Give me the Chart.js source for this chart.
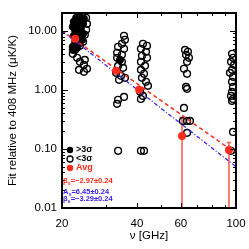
<!DOCTYPE html>
<html>
<head>
<meta charset="utf-8">
<script src="https://cdn.jsdelivr.net/npm/chart.js@4.4.0/dist/chart.umd.min.js"></script>
<style>
  html, body { margin: 0; padding: 0; background: #fff; }
  #wrap { width: 249px; height: 249px; }
</style>
</head>
<body>
<div id="wrap"><canvas id="fitChart" width="249" height="249"></canvas></div>
<script>
// tick labels
const xTicks = [20, 40, 60, 100];
const xMinor = [30, 50, 70, 80, 90];
const yTicks = [0.01, 0.1, 1, 10];

// >3 sigma detections (GHz, fit value)
const detFreq = [22.8, 23.6, 24.5, 22.3, 23.4, 24.3, 22.1, 23.0, 23.8, 22.6, 23.4, 24.3, 22.3, 23.2, 24.1, 22.6, 23.4, 22.1, 23.0, 22.1, 34.2];
const detVal  = [16.6, 17.3, 16.0, 14.2, 14.2, 13.1, 11.7, 11.7, 10.8, 10.0, 9.25, 8.9, 8.23, 7.61, 7.04, 6.51, 6.02, 5.36, 5.15, 4.76, 3.22];

// <3 sigma
const ndFreq = [
  25.0, 25.2, 25.0, 24.7, 24.3, 23.6, 22.6, 22.1, 23.0, 23.6, 24.7, 24.5, 25.2, 24.5, 23.4,
  35.5, 35.8, 34.8, 33.6, 35.5, 33.3, 34.8, 33.3, 34.8, 33.6, 35.2, 33.0, 34.5, 33.9, 35.8, 33.6, 35.5, 33.3, 33.6,
  42.3, 43.9, 41.5, 43.5, 41.9, 43.9, 41.5, 43.1, 41.5, 42.7, 41.9, 43.5, 44.3, 41.2, 42.3, 41.5, 41.5, 42.7,
  62.4, 64.1, 63.0, 64.7, 63.6, 61.8, 63.6, 63.0, 63.6, 61.8, 61.2, 63.6, 65.3, 63.6,
  96.4, 97.3, 95.5, 98.2, 96.4, 94.6, 97.3, 96.4, 97.3, 96.4, 95.5, 97.3, 96.4, 97.3, 95.5
];
const ndVal = [
  16.6, 13.1, 10.4, 8.55, 6.51, 5.57, 4.76, 4.08, 3.49, 2.98, 3.22, 2.65, 2.27, 2.02, 2.18,
  8.23, 7.04, 6.02, 5.36, 4.95, 4.24, 3.92, 3.49, 2.98, 2.55, 2.36, 1.94, 1.73, 1.48, 1.60, 0.68, 0.76, 0.579, 0.093,
  6.02, 5.57, 4.95, 4.41, 3.77, 3.49, 2.98, 2.55, 2.18, 1.87, 1.60, 1.37, 1.17, 0.925, 0.79, 0.70, 0.093, 0.093,
  4.76, 4.41, 3.92, 3.49, 2.98, 2.27, 1.87, 1.12, 1.04, 0.495, 0.298, 0.298, 0.298, 0.187,
  4.08, 3.49, 2.98, 2.65, 2.18, 1.94, 1.66, 1.37, 1.12, 0.925, 0.79, 0.70, 0.65, 0.194, 0.093
];

// band averages with error range
const avgFreq = [22.6, 33.0, 40.8, 60.7, 93.7];
const avgVal  = [7.3, 2.10, 1.0, 0.166, 0.096];
const avgHi   = [7.9, 2.35, 1.12, 0.34, 0.128];
const avgLo   = [6.7, 1.88, 0.89, 0.001, 0.001];

// power-law fits, ends at 20 and 100 GHz
const fitFreq = [20, 100];
const fitRed  = [10.0, 0.084];
const fitBlue = [9.93, 0.050];

const RED = '#ff2a1a';
const BAR = '#f25a48';
const BLUE = '#3a22ee';
const FONT = '"Liberation Sans", Arial, Helvetica, sans-serif';

function pts(xs, ys) {
    return xs.map((x, i) => ({ x: x, y: ys[i] }));
}

// inward ticks + frame, IDL style
const frameTicks = {
    id: 'frameTicks',
    afterDraw(chart) {
        const ctx = chart.ctx;
        const a = chart.chartArea;
        const xs = chart.scales.x, ys = chart.scales.y;
        ctx.save();
        ctx.strokeStyle = '#000';
        ctx.lineWidth = 1;
        function xt(v, len) {
            const p = Math.round(xs.getPixelForValue(v)) + 0.5;
            ctx.beginPath();
            ctx.moveTo(p, a.bottom); ctx.lineTo(p, a.bottom - len);
            ctx.moveTo(p, a.top); ctx.lineTo(p, a.top + len);
            ctx.stroke();
        }
        xTicks.forEach(v => xt(v, 5));
        xMinor.forEach(v => xt(v, 3));
        for (let d = -2; d <= 1; d++) {
            for (let m = 1; m <= 9; m++) {
                const v = m * Math.pow(10, d);
                if (v > 20) continue;
                const p = Math.round(ys.getPixelForValue(v)) + 0.5;
                const len = m === 1 ? 6 : 3;
                ctx.beginPath();
                ctx.moveTo(a.left, p); ctx.lineTo(a.left + len, p);
                ctx.moveTo(a.right, p); ctx.lineTo(a.right - len, p);
                ctx.stroke();
            }
        }
        ctx.lineWidth = 2;
        ctx.strokeRect(a.left, a.top, a.right - a.left, a.bottom - a.top);
        ctx.restore();
    }
};

// error bars on the averages
const errBars = {
    id: 'errBars',
    beforeDatasetsDraw(chart) {
        const ctx = chart.ctx;
        const a = chart.chartArea;
        const xs = chart.scales.x, ys = chart.scales.y;
        ctx.save();
        ctx.beginPath();
        ctx.rect(a.left, a.top, a.right - a.left, a.bottom - a.top);
        ctx.clip();
        ctx.strokeStyle = BAR;
        ctx.lineWidth = 1.5;
        avgFreq.forEach((f, i) => {
            const px = xs.getPixelForValue(f);
            const top = ys.getPixelForValue(avgHi[i]);
            const bot = ys.getPixelForValue(avgLo[i]);
            ctx.beginPath();
            ctx.moveTo(px, top); ctx.lineTo(px, bot);
            ctx.moveTo(px - 2, top); ctx.lineTo(px + 2, top);
            ctx.stroke();
        });
        ctx.restore();
    }
};

// key + fit results, lower left inside the frame
const keyText = {
    id: 'keyText',
    afterDraw(chart) {
        const ctx = chart.ctx;
        const a = chart.chartArea;
        const x0 = a.left + 8;
        ctx.save();
        ctx.textBaseline = 'middle';
        ctx.font = 'bold 9px ' + FONT;

        ctx.fillStyle = '#000';
        ctx.beginPath(); ctx.arc(x0, a.bottom - 58, 3.2, 0, 2 * Math.PI); ctx.fill();
        ctx.fillText('>3σ', x0 + 6, a.bottom - 58);

        ctx.strokeStyle = '#000'; ctx.lineWidth = 1.3;
        ctx.beginPath(); ctx.arc(x0, a.bottom - 49, 3, 0, 2 * Math.PI); ctx.stroke();
        ctx.fillText('<3σ', x0 + 6, a.bottom - 49);

        ctx.fillStyle = RED;
        ctx.beginPath(); ctx.arc(x0, a.bottom - 40, 3.2, 0, 2 * Math.PI); ctx.fill();
        ctx.fillText('Avg', x0 + 6, a.bottom - 40);

        function sub(sym, rest, x, y, col) {
            ctx.fillStyle = col;
            ctx.font = 'bold 7.5px ' + FONT;
            ctx.fillText(sym, x, y);
            let w = ctx.measureText(sym).width;
            ctx.font = 'bold 5.5px ' + FONT;
            ctx.fillText('s', x + w, y + 2);
            w += ctx.measureText('s').width;
            ctx.font = 'bold 7.5px ' + FONT;
            ctx.fillText(rest, x + w, y);
        }
        sub('β', '=−2.97±0.24', a.left + 1, a.bottom - 27, RED);
        sub('A', '=6.45±0.24', a.left + 1, a.bottom - 16, BLUE);
        sub('β', '=−3.29±0.24', a.left + 1, a.bottom - 9, BLUE);
        ctx.restore();
    }
};

const ctx = document.getElementById('fitChart').getContext('2d');
window.fitChartInstance = new Chart(ctx, {
    type: 'scatter',
    data: {
        datasets: [
            {
                label: '<3σ',
                data: pts(ndFreq, ndVal),
                pointRadius: 3.4,
                pointBorderWidth: 1.4,
                borderColor: '#000',
                backgroundColor: 'rgba(0,0,0,0)',
                order: 5
            },
            {
                label: '>3σ',
                data: pts(detFreq, detVal),
                pointRadius: 3.6,
                pointBorderWidth: 1,
                borderColor: '#000',
                backgroundColor: '#000',
                order: 4
            },
            {
                type: 'line',
                label: 'fit red',
                data: pts(fitFreq, fitRed),
                borderColor: RED,
                borderWidth: 1.5,
                borderDash: [4, 3],
                pointRadius: 0,
                fill: false,
                order: 3
            },
            {
                type: 'line',
                label: 'fit blue',
                data: pts(fitFreq, fitBlue),
                borderColor: BLUE,
                borderWidth: 1.3,
                borderDash: [4, 2, 1, 2],
                pointRadius: 0,
                fill: false,
                order: 2
            },
            {
                label: 'Avg',
                data: pts(avgFreq, avgVal),
                pointRadius: 4,
                pointBorderWidth: 0,
                borderColor: RED,
                backgroundColor: RED,
                order: 1
            }
        ]
    },
    options: {
        responsive: false,
        animation: false,
        devicePixelRatio: 1,
        layout: { padding: { left: 0, top: 13, right: 13, bottom: 0 } },
        plugins: {
            legend: { display: false },
            tooltip: { enabled: false }
        },
        scales: {
            x: {
                type: 'logarithmic',
                min: 20,
                max: 100,
                grid: { display: false, drawTicks: false },
                border: { display: false },
                afterBuildTicks: s => { s.ticks = xTicks.map(v => ({ value: v })); },
                afterFit: s => { s.height = 41; s.paddingLeft = 0; s.paddingRight = 0; },
                ticks: {
                    autoSkip: false,
                    maxRotation: 0,
                    padding: 9,
                    color: '#000',
                    font: { family: FONT, size: 11.5 },
                    callback: v => String(v)
                },
                title: {
                    display: true,
                    text: 'ν [GHz]',
                    color: '#000',
                    font: { family: FONT, size: 11.5 },
                    padding: { top: 0, bottom: 6 }
                }
            },
            y: {
                type: 'logarithmic',
                min: 0.01,
                max: 20,
                grid: { display: false, drawTicks: false },
                border: { display: false },
                afterBuildTicks: s => { s.ticks = yTicks.map(v => ({ value: v })); },
                afterFit: s => { s.width = 62; s.paddingTop = 0; s.paddingBottom = 0; },
                ticks: {
                    autoSkip: false,
                    padding: 5,
                    color: '#000',
                    font: { family: FONT, size: 11.5 },
                    callback: v => Number(v).toFixed(2)
                },
                title: {
                    display: true,
                    text: 'Fit relative to 408 MHz (μK/K)',
                    color: '#000',
                    font: { family: FONT, size: 11.5 },
                    padding: { top: 6, bottom: 0 }
                }
            }
        }
    },
    plugins: [errBars, frameTicks, keyText]
});
</script>
</body>
</html>
